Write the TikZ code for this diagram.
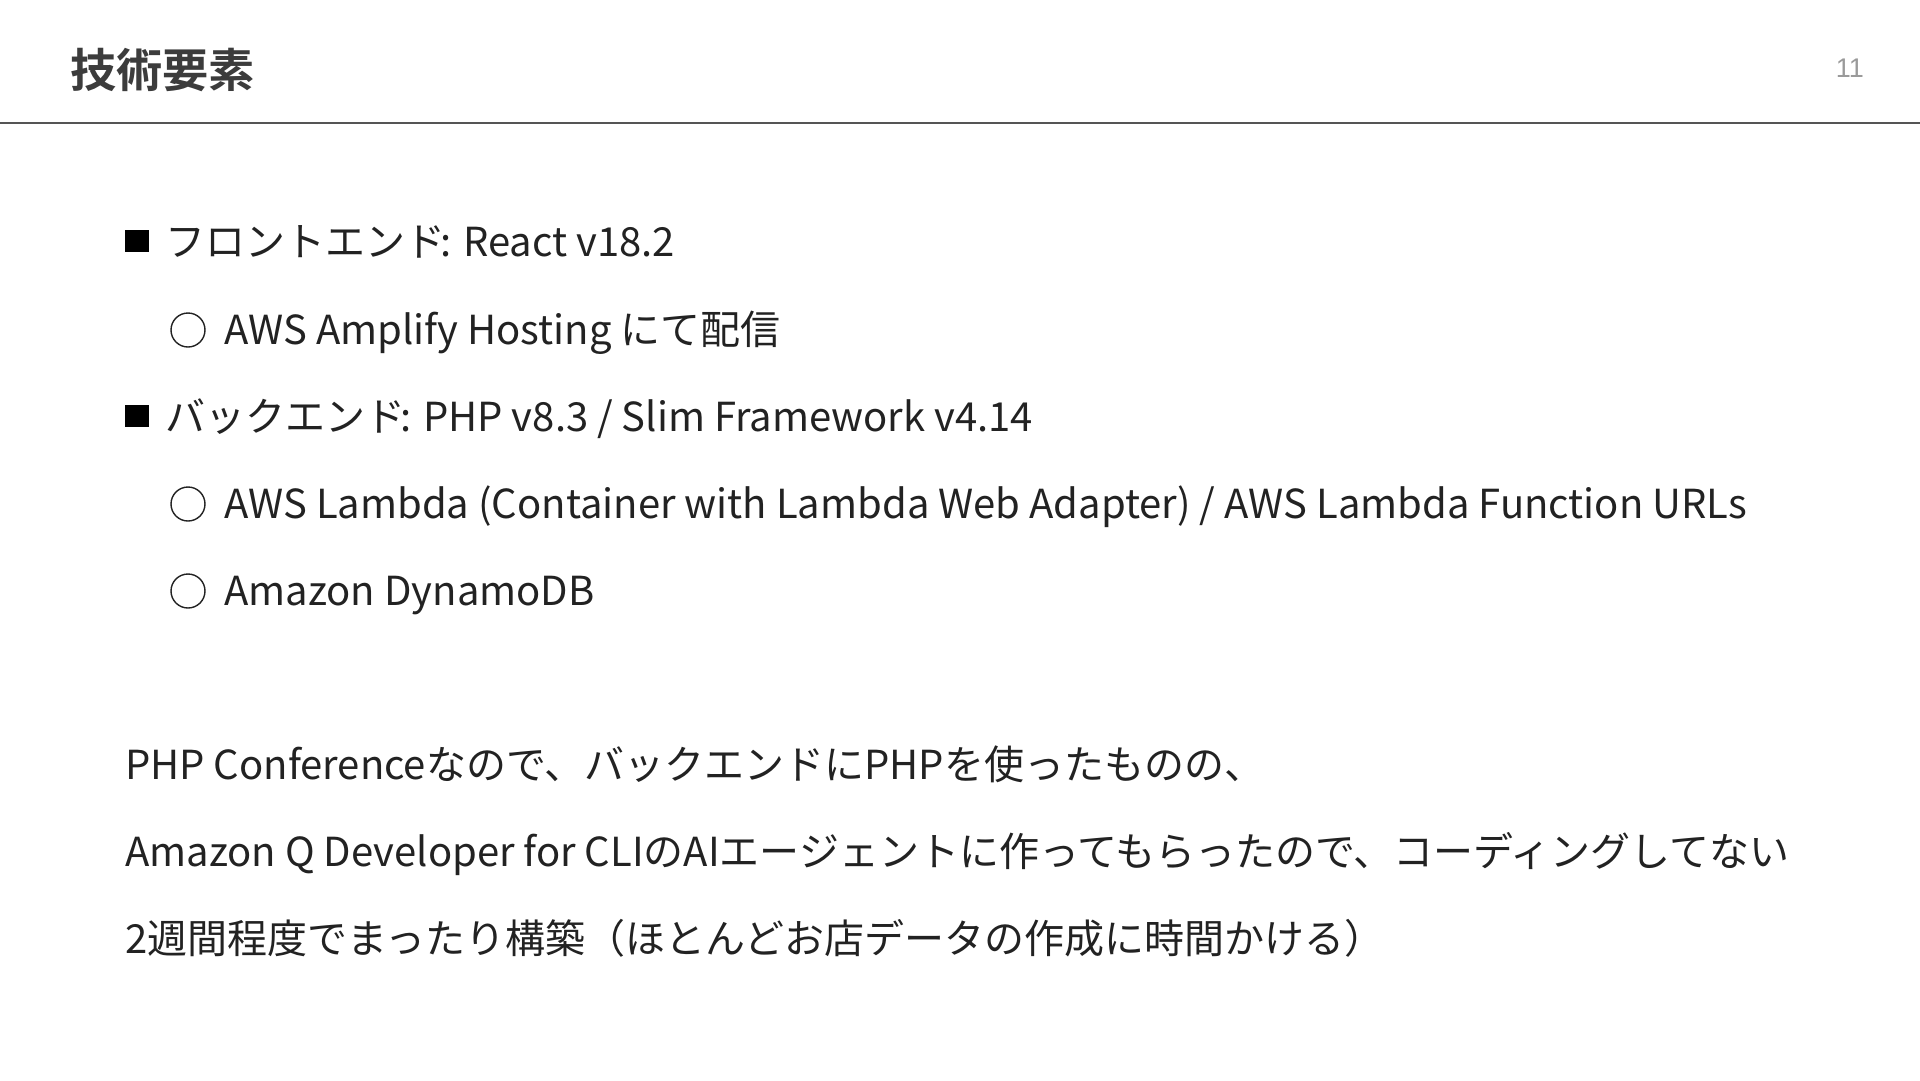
\documentclass[tikz,border=0pt]{standalone}
\usepackage{fontspec}
\setmainfont{Noto Sans CJK JP}
\newfontfamily\jpbold{Noto Sans CJK JP Bold}
\newfontfamily\pgfont{Liberation Sans}
\definecolor{txt}{HTML}{222222}
\definecolor{ttl}{HTML}{3C3C3C}
\definecolor{rule}{HTML}{555555}
\definecolor{pgno}{HTML}{9A9A9A}
\newcommand{\tightcolon}{\kern-5pt:}
\begin{document}
\begin{tikzpicture}[x=1pt,y=-1pt,
  body/.style={anchor=base west,inner sep=0pt,text=txt,font=\fontsize{40}{48}\selectfont},
  sq/.style={fill=black,draw=none,minimum width=24pt,minimum height=22pt,inner sep=0pt},
  circ/.style={circle,draw=txt,line width=1.4pt,minimum size=34pt,inner sep=0pt}]
\fill[white] (0,0) rectangle (1920,1080);
\useasboundingbox (0,0) rectangle (1920,1080);
% title
\node[anchor=base west,inner sep=0pt,text=ttl,font=\jpbold\fontsize{46.2}{55}\selectfont] (title) at (70,87) {技術要素};
\node[anchor=base east,inner sep=0pt,text=pgno,font=\pgfont\fontsize{27}{32}\selectfont] (pg) at (1864,77) {11};
\coordinate (rl) at (0,123);
\coordinate (rr) at (1920,123);
\draw[rule,line width=2pt] (rl) -- (rr);
% bullets
\node[sq] (b1) at (137,241) {};
\node[body] (t1) at (165,256) {フロントエンド\tightcolon{} React v18.2};
\node[circ] (c1) at (188,330) {};
\node[body] (t2) at (224,344) {AWS Amplify Hosting にて配信};
\node[sq] (b2) at (137,416) {};
\node[body] (t3) at (165,431) {バックエンド\tightcolon{} PHP v8.3 / Slim Framework v4.14};
\node[circ] (c2) at (188,504) {};
\node[body] (t4) at (224,518) {AWS Lambda (Container with Lambda Web Adapter) / AWS Lambda Function URLs};
\node[circ] (c3) at (188,591) {};
\node[body] (t5) at (224,605) {Amazon DynamoDB};
% paragraph
\node[body] (p1) at (125,779) {PHP Conferenceなので、バックエンドにPHPを使ったものの、};
\node[body] (p2) at (125,866) {Amazon Q Developer for CLIのAIエージェントに作ってもらったので、コーディングしてない};
\node[body] (p3) at (125,953) {2週間程度でまったり構築（ほとんどお店データの作成に時間かける）};
\end{tikzpicture}
\end{document}
